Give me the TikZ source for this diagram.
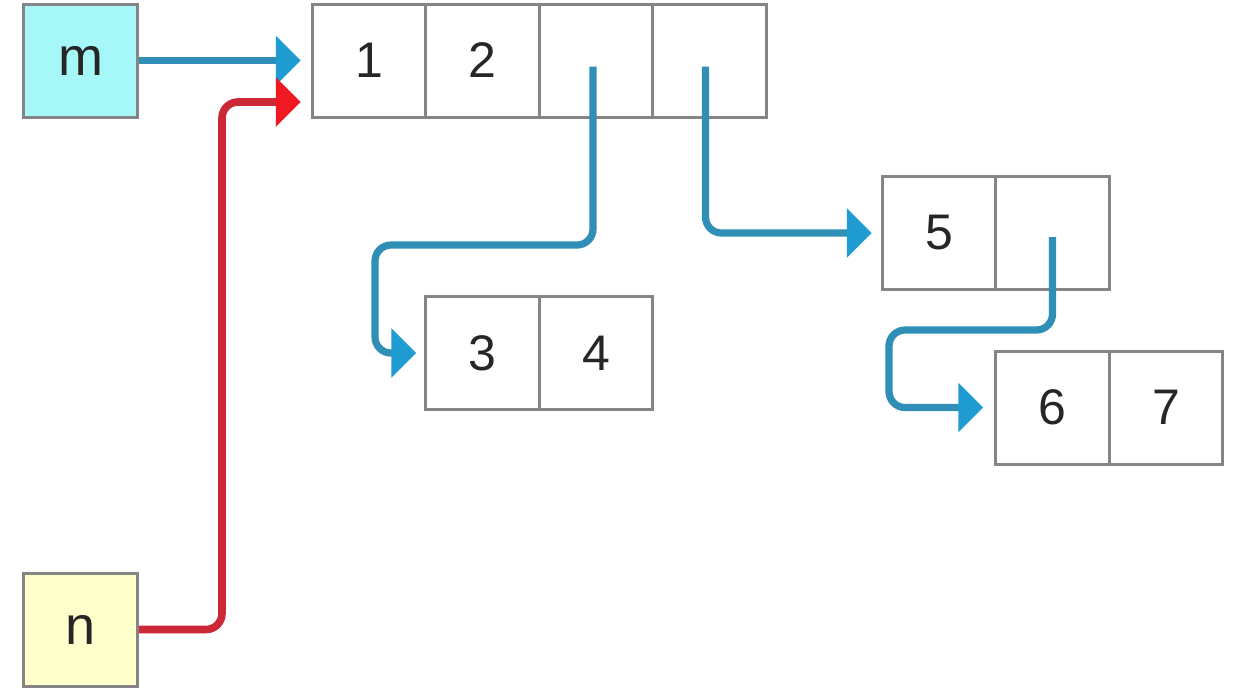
\documentclass[tikz,border=0pt]{standalone}
\usepackage{fontspec}
\setmainfont{Liberation Sans}
\usetikzlibrary{arrows.meta,calc}
\definecolor{boxgray}{HTML}{858585}
\definecolor{mfill}{HTML}{A6F8F8}
\definecolor{nfill}{HTML}{FFFFCC}
\definecolor{lineblue}{HTML}{2F8FB6}
\definecolor{headblue}{HTML}{1F9DD3}
\definecolor{linered}{HTML}{CC2838}
\definecolor{headred}{HTML}{F01822}
\definecolor{txt}{HTML}{262626}
\tikzset{
  cell/.style={draw=boxgray, line width=1.5pt, minimum width=56.75pt, minimum height=56.5pt,
    inner sep=0pt, text=txt, font=\fontsize{25}{30}\selectfont},
  var/.style={cell, font=\fontsize{27}{32}\selectfont},
  barrow/.style={draw=lineblue, line width=3.6pt, rounded corners=8pt,
    -{Triangle[length=12.5pt,width=24pt,color=headblue]}},
  rarrow/.style={draw=linered, line width=3.8pt, rounded corners=8pt,
    -{Triangle[length=12.5pt,width=24pt,color=headred]}}
}
\begin{document}
\begin{tikzpicture}[x=0.5pt,y=-0.5pt]
\useasboundingbox[fill=white] (0,0) rectangle (1235,693);
% variables
\node[var, fill=mfill] (m) at (80.5,60.5) {m};
\node[var, fill=nfill] (n) at (80.5,629.5) {n};
% top array
\node[cell] (a1) at (369,60.5) {1};
\node[cell] (a2) at (482.5,60.5) {2};
\node[cell] (a3) at (596,60.5) {};
\node[cell] (a4) at (709.5,60.5) {};
% 3 4
\node[cell] (b1) at (482.5,353) {3};
\node[cell] (b2) at (596,353) {4};
% 5 .
\node[cell] (c1) at (939,233) {5};
\node[cell] (c2) at (1052.5,233) {};
% 6 7
\node[cell] (d1) at (1052.5,407.5) {6};
\node[cell] (d2) at (1166,407.5) {7};
% arrows
\draw[barrow, shorten >=5pt] (m.east) -- (a1.west);
\coordinate (rtop) at ($(a1.west)+(0,41.5)$);
\draw[rarrow, shorten >=5pt] (n.east) -- (222,629.5) -- (222,102) -- (rtop);
\coordinate (s3) at ($(a3.center)+(-3,6)$);
\draw[barrow, shorten >=4pt] (s3) -- (593,245) -- (375,245) -- (375,353) -- (b1.west);
\coordinate (s4) at ($(a4.center)+(-4,6)$);
\draw[barrow, shorten >=4.5pt] (s4) -- (705.5,233) -- (c1.west);
\coordinate (s5) at ($(c2.center)+(0,4)$);
\draw[barrow, shorten >=5.5pt] (s5) -- (1052.5,330) -- (889,330) -- (889,407.5) -- (d1.west);
\end{tikzpicture}
\end{document}
